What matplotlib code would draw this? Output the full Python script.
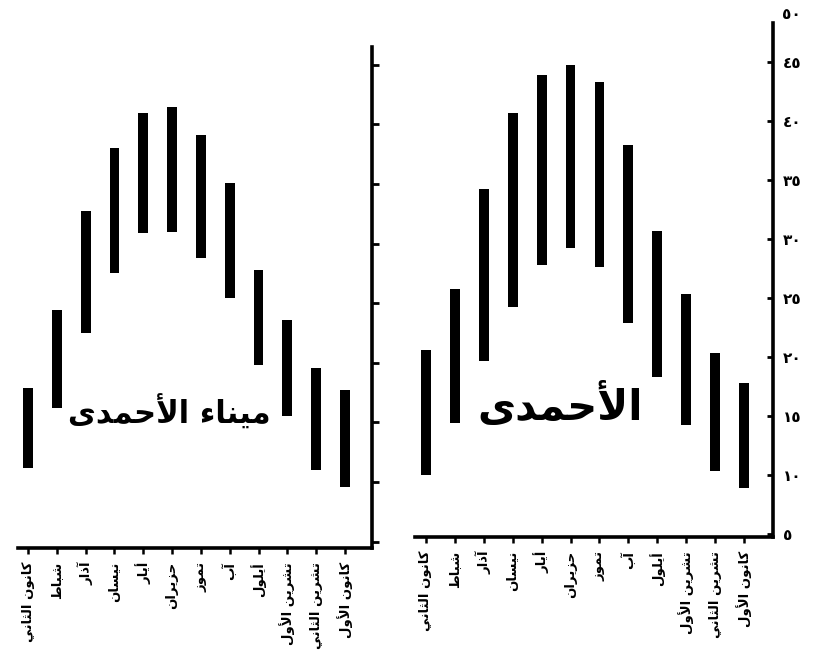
import matplotlib
matplotlib.use("Agg")
import matplotlib.pyplot as plt
import matplotlib.transforms as mtransforms

# ---------------- data ----------------
months = ["كانون الثاني", "شباط", "آذار", "نيسان", "أيار", "حزيران",
          "تموز", "آب", "أيلول", "تشرين الأول", "تشرين الثاني", "كانون الأول"]

# Mina Al-Ahmadi (left panel): monthly max / min temperature (deg C)
mina_max = [17.9, 24.4, 32.7, 38.0, 41.0, 41.5, 39.1, 35.1, 27.8, 23.6, 19.6, 17.7]
mina_min = [11.2, 16.2, 22.5, 27.5, 30.9, 31.0, 28.8, 25.4, 19.8, 15.5, 11.0, 9.6]

# Al-Ahmadi (right panel)
ahm_max = [20.6, 25.8, 34.2, 40.7, 43.9, 44.7, 43.3, 38.0, 30.7, 25.3, 20.3, 17.8]
ahm_min = [10.0, 14.4, 19.7, 24.2, 27.8, 29.2, 27.6, 22.9, 18.3, 14.2, 10.3, 8.9]

y_ticks = [5, 10, 15, 20, 25, 30, 35, 40, 45]
y_tick_labels = ["٥", "١٠", "١٥", "٢٠", "٢٥", "٣٠", "٣٥", "٤٠", "٤٥"]
y_top_label = "٥٠"
y_top_value = 49.0

title_left = "ميناء الأحمدى"
title_right = "الأحمدى"

# ---------------- minimal Arabic shaping ----------------
FORMS = {
    'ا': ('\uFE8D', '\uFE8E', None, None),
    'أ': ('\uFE83', '\uFE84', None, None),
    'آ': ('\uFE81', '\uFE82', None, None),
    'ء': ('\uFE80', None, None, None),
    'ب': ('\uFE8F', '\uFE90', '\uFE91', '\uFE92'),
    'ت': ('\uFE95', '\uFE96', '\uFE97', '\uFE98'),
    'ث': ('\uFE99', '\uFE9A', '\uFE9B', '\uFE9C'),
    'ح': ('\uFEA1', '\uFEA2', '\uFEA3', '\uFEA4'),
    'د': ('\uFEA9', '\uFEAA', None, None),
    'ذ': ('\uFEAB', '\uFEAC', None, None),
    'ر': ('\uFEAD', '\uFEAE', None, None),
    'ز': ('\uFEAF', '\uFEB0', None, None),
    'س': ('\uFEB1', '\uFEB2', '\uFEB3', '\uFEB4'),
    'ش': ('\uFEB5', '\uFEB6', '\uFEB7', '\uFEB8'),
    'ط': ('\uFEC1', '\uFEC2', '\uFEC3', '\uFEC4'),
    'ك': ('\uFED9', '\uFEDA', '\uFEDB', '\uFEDC'),
    'ل': ('\uFEDD', '\uFEDE', '\uFEDF', '\uFEE0'),
    'م': ('\uFEE1', '\uFEE2', '\uFEE3', '\uFEE4'),
    'ن': ('\uFEE5', '\uFEE6', '\uFEE7', '\uFEE8'),
    'و': ('\uFEED', '\uFEEE', None, None),
    'ى': ('\uFEEF', '\uFEF0', None, None),
    'ي': ('\uFEF1', '\uFEF2', '\uFEF3', '\uFEF4'),
}
LAM_ALEF = {'ا': ('\uFEFB', '\uFEFC'), 'أ': ('\uFEF7', '\uFEF8'), 'آ': ('\uFEF5', '\uFEF6')}


def shape(text):
    chars = list(text)
    n = len(chars)
    out = []
    prev_joins = False
    i = 0
    while i < n:
        c = chars[i]
        if c == 'ل' and i + 1 < n and chars[i + 1] in LAM_ALEF:
            iso, fin = LAM_ALEF[chars[i + 1]]
            out.append(fin if prev_joins else iso)
            prev_joins = False
            i += 2
            continue
        if c in FORMS:
            f = FORMS[c]
            nxt = chars[i + 1] if i + 1 < n else None
            joins_next = (f[2] is not None) and (nxt in FORMS) and nxt != 'ء'
            if prev_joins and joins_next:
                g = f[3]
            elif prev_joins:
                g = f[1] or f[0]
            elif joins_next:
                g = f[2]
            else:
                g = f[0]
            out.append(g)
            prev_joins = joins_next
        else:
            out.append(c)
            prev_joins = False
        i += 1
    return ''.join(reversed(out))


plt.rcParams['font.family'] = ['DejaVu Sans']

W, H = 817, 660
fig = plt.figure(figsize=(W / 100, H / 100), dpi=100)
fig.patch.set_facecolor('white')


def rect(l, r, t, b):
    return [l / W, 1 - b / H, (r - l) / W, (b - t) / H]


ax1 = fig.add_axes(rect(18, 372, 47, 548))
ax2 = fig.add_axes(rect(415, 773, 23, 537))

x = list(range(len(months)))
month_labels = [shape(m) for m in months]


def style(ax):
    for s in ('left', 'top'):
        ax.spines[s].set_visible(False)
    for s in ('right', 'bottom'):
        ax.spines[s].set_linewidth(2.6)
        ax.spines[s].set_color('black')
    ax.yaxis.tick_right()
    ax.set_xticks(x)
    ax.set_xticklabels(month_labels, rotation=90, fontsize=9.5, fontweight='bold')
    ax.tick_params(axis='x', direction='out', length=4, width=1.8, pad=6)
    ax.set_facecolor('white')


# left panel
h1 = [a - b for a, b in zip(mina_max, mina_min)]
ax1.bar(x, h1, bottom=mina_min, width=0.34, color='black')
style(ax1)
ax1.set_xlim(-0.35, 11.94)
ax1.set_ylim(4.46, 46.5)
ax1.set_yticks(y_ticks)
ax1.tick_params(axis='y', direction='out', length=5, width=2, labelright=False)
ax1.text(4.9, 15.9, shape(title_left), fontsize=22, fontweight='bold',
         ha='center', va='center')

# right panel
h2 = [a - b for a, b in zip(ahm_max, ahm_min)]
ax2.bar(x, h2, bottom=ahm_min, width=0.34, color='black')
style(ax2)
ax2.set_xlim(-0.38, 12.0)
ax2.set_ylim(4.75, 48.3)
ax2.set_yticks(y_ticks)
ax2.set_yticklabels(y_tick_labels, fontsize=11, fontweight='bold')
ax2.tick_params(axis='y', direction='in', length=4, width=2, pad=7)
trans = mtransforms.blended_transform_factory(ax2.transAxes, ax2.transData)
ax2.text(1.0 + 9 / (773 - 415), y_top_value, y_top_label, transform=trans,
         fontsize=11, fontweight='bold', ha='left', va='center')
ax2.text(4.64, 15.8, shape(title_right), fontsize=30, fontweight='bold',
         ha='center', va='center')

fig.savefig('out.png', dpi=100, facecolor='white')
